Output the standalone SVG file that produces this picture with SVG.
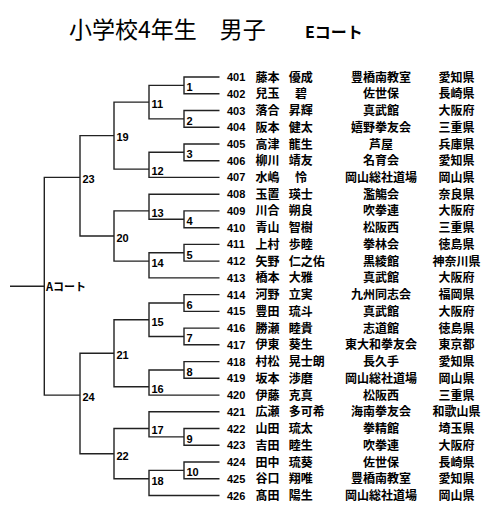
<svg xmlns="http://www.w3.org/2000/svg" width="499" height="519" viewBox="0 0 499 519">
<style>
.t{font-family:"Noto Sans CJK JP","Liberation Sans",sans-serif;fill:#000}
.ttl{font-size:23px}
.ct{font-size:16px;font-weight:bold}
.ml{font-family:"Liberation Sans",Arial,sans-serif;font-size:11px;font-weight:bold;fill:#000}
.no{font-family:"Liberation Sans",Arial,sans-serif;font-size:11px;font-weight:bold;fill:#000}
.jp{font-family:"Noto Sans CJK JP",sans-serif;font-size:12px;font-weight:bold;fill:#000}
.c{text-anchor:middle}
.ln{fill:none;stroke:#222;stroke-width:1.4}
</style>
<rect width="499" height="519" fill="#fff"/>
<g id="title">
<text class="t ttl" x="69" y="38">小学校4年生　男子</text>
<text class="t ct" x="305" y="37.5">Eコート</text>
</g>
<g id="connectors" class="ln">
<path d="M219.5,77 H184 V93.7 H219.5"/>
<path d="M219.5,110.5 H184 V127.2 H219.5"/>
<path d="M219.5,144 H184 V160.7 H219.5"/>
<path d="M219.5,210.9 H184 V227.7 H219.5"/>
<path d="M219.5,244.4 H184 V261.1 H219.5"/>
<path d="M219.5,294.6 H184 V311.4 H219.5"/>
<path d="M219.5,328.1 H184 V344.8 H219.5"/>
<path d="M219.5,361.6 H184 V378.3 H219.5"/>
<path d="M219.5,428.5 H184 V445.3 H219.5"/>
<path d="M219.5,462 H184 V478.8 H219.5"/>
<path d="M184,85.4 H149 V118.9 H184"/>
<path d="M184,152.3 H149 V177.4 H219.5"/>
<path d="M219.5,194.2 H149 V219.3 H184"/>
<path d="M184,252.8 H149 V277.9 H219.5"/>
<path d="M184,303 H149 V336.5 H184"/>
<path d="M184,370 H149 V395.1 H219.5"/>
<path d="M219.5,411.8 H149 V436.9 H184"/>
<path d="M184,470.4 H149 V495.5 H219.5"/>
<path d="M149,102.1 H114 V169.1 H149"/>
<path d="M149,210.9 H114 V261.1 H149"/>
<path d="M149,319.7 H114 V386.7 H149"/>
<path d="M149,428.5 H114 V478.8 H149"/>
<path d="M114,135.6 H80 V236 H114"/>
<path d="M114,353.2 H80 V453.7 H114"/>
<path d="M80,177.4 H44.3 V395.1 H80"/>
<path d="M10,286.3 H44.3"/>
</g>
<g id="m1"><text class="ml" x="186.5" y="91.2">1</text></g>
<g id="m2"><text class="ml" x="186.5" y="124.7">2</text></g>
<g id="m3"><text class="ml" x="186.5" y="158.1">3</text></g>
<g id="m4"><text class="ml" x="186.5" y="225.1">4</text></g>
<g id="m5"><text class="ml" x="186.5" y="258.6">5</text></g>
<g id="m6"><text class="ml" x="186.5" y="308.8">6</text></g>
<g id="m7"><text class="ml" x="186.5" y="342.3">7</text></g>
<g id="m8"><text class="ml" x="186.5" y="375.8">8</text></g>
<g id="m9"><text class="ml" x="186.5" y="442.7">9</text></g>
<g id="m10"><text class="ml" x="186.5" y="476.2">10</text></g>
<g id="m11"><text class="ml" x="151.5" y="107.9">11</text></g>
<g id="m12"><text class="ml" x="151.5" y="174.9">12</text></g>
<g id="m13"><text class="ml" x="151.5" y="216.7">13</text></g>
<g id="m14"><text class="ml" x="151.5" y="266.9">14</text></g>
<g id="m15"><text class="ml" x="151.5" y="325.5">15</text></g>
<g id="m16"><text class="ml" x="151.5" y="392.5">16</text></g>
<g id="m17"><text class="ml" x="151.5" y="434.3">17</text></g>
<g id="m18"><text class="ml" x="151.5" y="484.6">18</text></g>
<g id="m19"><text class="ml" x="116.5" y="141.4">19</text></g>
<g id="m20"><text class="ml" x="116.5" y="241.8">20</text></g>
<g id="m21"><text class="ml" x="116.5" y="359">21</text></g>
<g id="m22"><text class="ml" x="116.5" y="459.5">22</text></g>
<g id="m23"><text class="ml" x="82.5" y="183.2">23</text></g>
<g id="m24"><text class="ml" x="82.5" y="400.9">24</text></g>
<g id="final"><text class="jp" style="font-size:11px" x="46" y="291">Aコート</text></g>
<g id="e401"><text class="no" x="227" y="81">401</text><text class="jp" x="255.5" y="81.5">藤本</text><text class="jp" x="288.8" y="81.5">優成</text><text class="jp c" x="381" y="81.5">豊橋南教室</text><text class="jp c" x="456.5" y="81.5">愛知県</text></g>
<g id="e402"><text class="no" x="227" y="97.7">402</text><text class="jp" x="255.5" y="98.2">兒玉</text><text class="jp" x="295" y="98.2">碧</text><text class="jp c" x="381" y="98.2">佐世保</text><text class="jp c" x="456.5" y="98.2">長崎県</text></g>
<g id="e403"><text class="no" x="227" y="114.5">403</text><text class="jp" x="255.5" y="115">落合</text><text class="jp" x="288.8" y="115">昇輝</text><text class="jp c" x="381" y="115">真武館</text><text class="jp c" x="456.5" y="115">大阪府</text></g>
<g id="e404"><text class="no" x="227" y="131.2">404</text><text class="jp" x="255.5" y="131.7">阪本</text><text class="jp" x="288.8" y="131.7">健太</text><text class="jp c" x="381" y="131.7">嬉野拳友会</text><text class="jp c" x="456.5" y="131.7">三重県</text></g>
<g id="e405"><text class="no" x="227" y="148">405</text><text class="jp" x="255.5" y="148.5">高津</text><text class="jp" x="288.8" y="148.5">龍生</text><text class="jp c" x="381" y="148.5">芦屋</text><text class="jp c" x="456.5" y="148.5">兵庫県</text></g>
<g id="e406"><text class="no" x="227" y="164.7">406</text><text class="jp" x="255.5" y="165.2">柳川</text><text class="jp" x="288.8" y="165.2">靖友</text><text class="jp c" x="381" y="165.2">名育会</text><text class="jp c" x="456.5" y="165.2">愛知県</text></g>
<g id="e407"><text class="no" x="227" y="181.4">407</text><text class="jp" x="255.5" y="181.9">水嶋</text><text class="jp" x="295" y="181.9">怜</text><text class="jp c" x="381" y="181.9">岡山総社道場</text><text class="jp c" x="456.5" y="181.9">岡山県</text></g>
<g id="e408"><text class="no" x="227" y="198.2">408</text><text class="jp" x="255.5" y="198.7">玉置</text><text class="jp" x="288.8" y="198.7">瑛士</text><text class="jp c" x="381" y="198.7">濫觴会</text><text class="jp c" x="456.5" y="198.7">奈良県</text></g>
<g id="e409"><text class="no" x="227" y="214.9">409</text><text class="jp" x="255.5" y="215.4">川合</text><text class="jp" x="288.8" y="215.4">朔良</text><text class="jp c" x="381" y="215.4">吹拳連</text><text class="jp c" x="456.5" y="215.4">大阪府</text></g>
<g id="e410"><text class="no" x="227" y="231.7">410</text><text class="jp" x="255.5" y="232.2">青山</text><text class="jp" x="288.8" y="232.2">智樹</text><text class="jp c" x="381" y="232.2">松阪西</text><text class="jp c" x="456.5" y="232.2">三重県</text></g>
<g id="e411"><text class="no" x="227" y="248.4">411</text><text class="jp" x="255.5" y="248.9">上村</text><text class="jp" x="288.8" y="248.9">歩睦</text><text class="jp c" x="381" y="248.9">拳林会</text><text class="jp c" x="456.5" y="248.9">徳島県</text></g>
<g id="e412"><text class="no" x="227" y="265.1">412</text><text class="jp" x="255.5" y="265.6">矢野</text><text class="jp" x="288.8" y="265.6">仁之佑</text><text class="jp c" x="381" y="265.6">黒綾館</text><text class="jp c" x="456.5" y="265.6">神奈川県</text></g>
<g id="e413"><text class="no" x="227" y="281.9">413</text><text class="jp" x="255.5" y="282.4">橋本</text><text class="jp" x="288.8" y="282.4">大雅</text><text class="jp c" x="381" y="282.4">真武館</text><text class="jp c" x="456.5" y="282.4">大阪府</text></g>
<g id="e414"><text class="no" x="227" y="298.6">414</text><text class="jp" x="255.5" y="299.1">河野</text><text class="jp" x="288.8" y="299.1">立実</text><text class="jp c" x="381" y="299.1">九州同志会</text><text class="jp c" x="456.5" y="299.1">福岡県</text></g>
<g id="e415"><text class="no" x="227" y="315.4">415</text><text class="jp" x="255.5" y="315.9">豊田</text><text class="jp" x="288.8" y="315.9">琉斗</text><text class="jp c" x="381" y="315.9">真武館</text><text class="jp c" x="456.5" y="315.9">大阪府</text></g>
<g id="e416"><text class="no" x="227" y="332.1">416</text><text class="jp" x="255.5" y="332.6">勝瀬</text><text class="jp" x="288.8" y="332.6">睦貴</text><text class="jp c" x="381" y="332.6">志道館</text><text class="jp c" x="456.5" y="332.6">徳島県</text></g>
<g id="e417"><text class="no" x="227" y="348.8">417</text><text class="jp" x="255.5" y="349.3">伊東</text><text class="jp" x="288.8" y="349.3">葵生</text><text class="jp c" x="381" y="349.3">東大和拳友会</text><text class="jp c" x="456.5" y="349.3">東京都</text></g>
<g id="e418"><text class="no" x="227" y="365.6">418</text><text class="jp" x="255.5" y="366.1">村松</text><text class="jp" x="288.8" y="366.1">晃士朗</text><text class="jp c" x="381" y="366.1">長久手</text><text class="jp c" x="456.5" y="366.1">愛知県</text></g>
<g id="e419"><text class="no" x="227" y="382.3">419</text><text class="jp" x="255.5" y="382.8">坂本</text><text class="jp" x="288.8" y="382.8">渉磨</text><text class="jp c" x="381" y="382.8">岡山総社道場</text><text class="jp c" x="456.5" y="382.8">岡山県</text></g>
<g id="e420"><text class="no" x="227" y="399.1">420</text><text class="jp" x="255.5" y="399.6">伊藤</text><text class="jp" x="288.8" y="399.6">克真</text><text class="jp c" x="381" y="399.6">松阪西</text><text class="jp c" x="456.5" y="399.6">三重県</text></g>
<g id="e421"><text class="no" x="227" y="415.8">421</text><text class="jp" x="255.5" y="416.3">広瀬</text><text class="jp" x="288.8" y="416.3">多可希</text><text class="jp c" x="381" y="416.3">海南拳友会</text><text class="jp c" x="456.5" y="416.3">和歌山県</text></g>
<g id="e422"><text class="no" x="227" y="432.5">422</text><text class="jp" x="255.5" y="433">山田</text><text class="jp" x="288.8" y="433">琉太</text><text class="jp c" x="381" y="433">拳精館</text><text class="jp c" x="456.5" y="433">埼玉県</text></g>
<g id="e423"><text class="no" x="227" y="449.3">423</text><text class="jp" x="255.5" y="449.8">吉田</text><text class="jp" x="288.8" y="449.8">睦生</text><text class="jp c" x="381" y="449.8">吹拳連</text><text class="jp c" x="456.5" y="449.8">大阪府</text></g>
<g id="e424"><text class="no" x="227" y="466">424</text><text class="jp" x="255.5" y="466.5">田中</text><text class="jp" x="288.8" y="466.5">琉葵</text><text class="jp c" x="381" y="466.5">佐世保</text><text class="jp c" x="456.5" y="466.5">長崎県</text></g>
<g id="e425"><text class="no" x="227" y="482.8">425</text><text class="jp" x="255.5" y="483.3">谷口</text><text class="jp" x="288.8" y="483.3">翔唯</text><text class="jp c" x="381" y="483.3">豊橋南教室</text><text class="jp c" x="456.5" y="483.3">愛知県</text></g>
<g id="e426"><text class="no" x="227" y="499.5">426</text><text class="jp" x="255.5" y="500">髙田</text><text class="jp" x="288.8" y="500">陽生</text><text class="jp c" x="381" y="500">岡山総社道場</text><text class="jp c" x="456.5" y="500">岡山県</text></g>
</svg>
